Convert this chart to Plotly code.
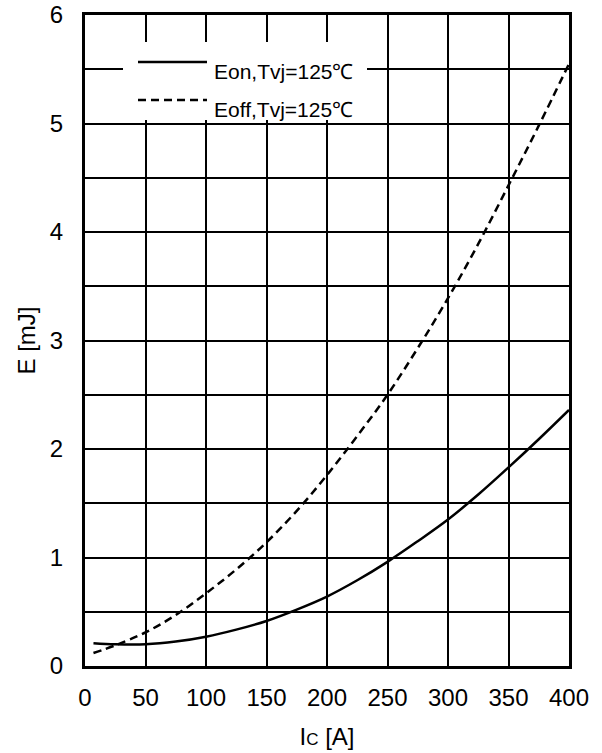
import plotly.graph_objects as go

# Collector current [A]
ic_on = [7, 25, 50, 75, 100, 125, 150, 175, 200, 225, 250, 275, 300, 325, 350, 375, 400]
# Eon, Tvj=125°C [mJ]
e_on = [0.21, 0.20, 0.20, 0.225, 0.27, 0.335, 0.415, 0.52, 0.64, 0.79, 0.96, 1.15, 1.35, 1.58, 1.83, 2.09, 2.36]

ic_off = [7, 25, 50, 75, 100, 125, 150, 175, 200, 225, 250, 275, 300, 325, 350, 375, 400]
# Eoff, Tvj=125°C [mJ]
e_off = [0.12, 0.19, 0.31, 0.47, 0.67, 0.89, 1.14, 1.43, 1.76, 2.12, 2.50, 2.93, 3.39, 3.89, 4.43, 4.98, 5.55]

x_ticks = [0, 50, 100, 150, 200, 250, 300, 350, 400]
y_ticks = [0, 1, 2, 3, 4, 5, 6]

names = ["Eon,Tvj=125℃", "Eoff,Tvj=125℃"]

FONT = "Liberation Sans, Arial, sans-serif"

fig = go.Figure()
fig.add_trace(go.Scatter(x=ic_on, y=e_on, mode="lines", name=names[0],
                         line=dict(color="black", width=2.5, shape="spline")))
fig.add_trace(go.Scatter(x=ic_off, y=e_off, mode="lines", name=names[1],
                         line=dict(color="black", width=2.5, dash="8px,5px", shape="spline")))

# manual legend (white box covering grid, long line samples)
PL, PT, PW, PH = 85, 15, 484, 651  # plot area in pixels
fig.add_shape(type="rect", xref="paper", yref="paper",
              x0=(123 - PL) / PW, x1=(367 - PL) / PW,
              y0=(PT + PH - 120) / PH, y1=(PT + PH - 42) / PH,
              fillcolor="white", line=dict(width=0), layer="above")
leg_y = [(PT + PH - 62) / PH, (PT + PH - 100) / PH]
dashes = ["solid", "8px,5px"]
for i in range(2):
    fig.add_shape(type="line", xref="paper", yref="paper",
                  x0=(138 - PL) / PW, x1=(207 - PL) / PW, y0=leg_y[i], y1=leg_y[i],
                  line=dict(color="black", width=2.5, dash=dashes[i]), layer="above")
    fig.add_annotation(xref="paper", yref="paper", x=(212 - PL) / PW, y=leg_y[i] - 0.014,
                       text=names[i], showarrow=False, xanchor="left", yanchor="middle",
                       font=dict(family=FONT, size=21, color="black"))

axis_common = dict(showline=True, mirror=True, linecolor="black", linewidth=3,
                   gridcolor="black", gridwidth=1.5, zeroline=False, ticks="",
                   automargin=False,
                   tickfont=dict(family=FONT, size=24, color="black"))

fig.update_xaxes(range=[0, 400], tickvals=x_ticks, showgrid=True,
                 ticklabelstandoff=8,
                 title=dict(text='I<span style="font-size:17px">C</span> [A]',
                            font=dict(family=FONT, size=24, color="black"), standoff=19),
                 **axis_common)
fig.update_yaxes(range=[0, 6], tickvals=y_ticks, showgrid=True,
                 minor=dict(dtick=0.5, showgrid=True, gridcolor="black", gridwidth=1.5, ticks=""),
                 ticklabelstandoff=14,
                 title=dict(text="E [mJ]", font=dict(family=FONT, size=24, color="black"), standoff=8),
                 **axis_common)

fig.update_layout(width=602, height=753, showlegend=False,
                  margin=dict(l=PL, r=602 - PL - PW, t=PT, b=753 - PT - PH),
                  plot_bgcolor="white", paper_bgcolor="white",
                  font=dict(family=FONT, color="black"))

# remove the browser's default page margin so the figure sits at the window's corner
fig.write_html("out.html", config={"displayModeBar": False},
               post_script="document.body.style.margin='0';")
